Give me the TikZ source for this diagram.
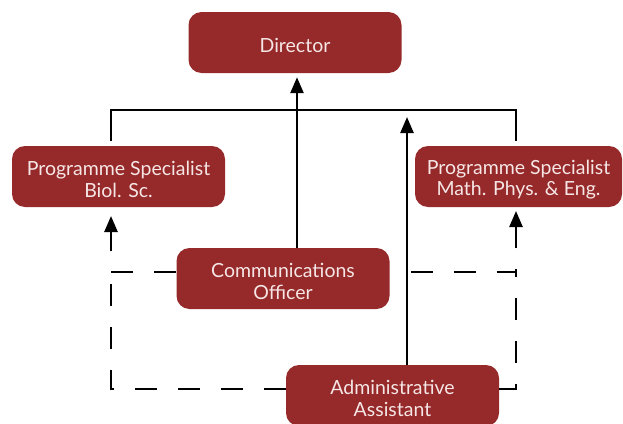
\documentclass[tikz,border=0pt]{standalone}
\usepackage{fontspec}
\setmainfont{Lato}
\usetikzlibrary{arrows.meta}
\definecolor{boxred}{RGB}{150,41,41}
\definecolor{boxtext}{RGB}{246,230,230}
\begin{document}
\begin{tikzpicture}[x=1pt,y=-1pt,
 box/.style={fill=boxred, rounded corners=13pt, minimum width=213pt, minimum height=61pt, inner sep=0pt},
 lbl/.style={align=center, text=boxtext, font=\fontsize{19.5}{21.5}\selectfont, inner sep=0pt, yshift=-3pt},
 conn/.style={line width=2.5pt},
 arr/.style={conn, -{Triangle[width=13pt,length=16pt]}},
 dsh/.style={conn, dash pattern=on 22pt off 21pt}]
\useasboundingbox (0,0) rectangle (623,423);
\clip (0,0) rectangle (623,423);
\node[box] (dir) at (295,42.5) {};
\node[box] (bio) at (118.5,176.5) {};
\node[box, minimum width=207pt] (math) at (518.5,176.5) {};
\node[box] (comm) at (283,278.5) {};
\node[box] (adm) at (392.5,395.5) {};
\node[lbl] (dirt) at (dir.center) {Director};
\node[lbl] (biot) at (bio.center) {Programme Specialist\\Biol. Sc.};
\node[lbl] (matht) at (math.center) {Programme Specialist\\Math. Phys. \& Eng.};
\node[lbl] (commt) at (comm.center) {Communications\\Officer};
\node[lbl] (admt) at (adm.center) {Administrative\\Assistant};
% coordinates
\coordinate (bl) at (111,141);
\coordinate (br) at (516,141);
\coordinate (blt) at (111,110);
\coordinate (brt) at (516,110);
\coordinate (cx) at (297,0);
\coordinate (ax) at (407,0);
\coordinate (atip) at (407,117);
\coordinate (ltip) at (111,216);
\coordinate (rtip) at (516,211);
\coordinate (ljoin) at (111,272);
\coordinate (rjoin) at (516,272);
% solid lines
\draw[conn] (bl) -- (blt) -- (brt) -- (br);
\draw[arr, shorten >=4pt] (comm.north -| cx) -- (dir.south -| cx);
\draw[arr] (adm.north -| ax) -- (atip);
% dashed lines
\draw[dsh, -{Triangle[width=13pt,length=16pt]}] ([yshift=6.5pt]comm.west) -| (ltip);
\draw[dsh] ([yshift=6.5pt]adm.west) -| (ljoin);
\draw[dsh, dash phase=22pt, -{Triangle[width=13pt,length=16pt]}] ([yshift=6.5pt]comm.east) -| (rtip);
\draw[dsh] ([yshift=6.5pt]adm.east) -| (rjoin);
\end{tikzpicture}
\end{document}
